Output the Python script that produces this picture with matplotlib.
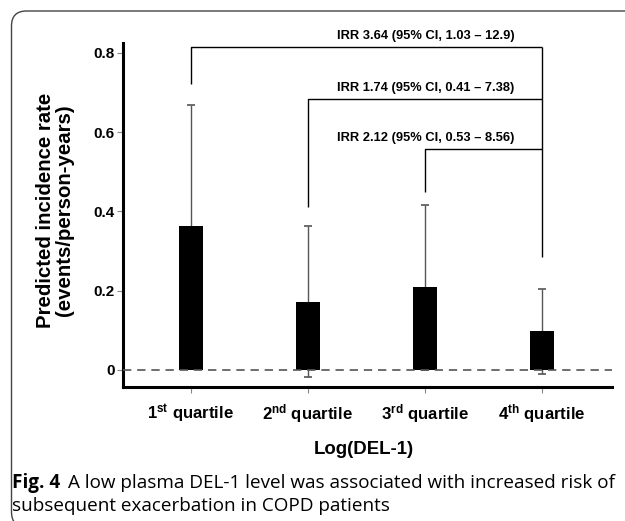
import matplotlib
matplotlib.use('Agg')
import matplotlib.pyplot as plt
from matplotlib.patches import FancyBboxPatch
from matplotlib import font_manager

# ---- data ----
categories = ['1$^{\\mathregular{st}}$ quartile', '2$^{\\mathregular{nd}}$ quartile',
              '3$^{\\mathregular{rd}}$ quartile', '4$^{\\mathregular{th}}$ quartile']
rates = [0.364, 0.172, 0.208, 0.098]
upper_ci = [0.667, 0.362, 0.415, 0.205]
yticks = [0, 0.2, 0.4, 0.6, 0.8]
ytick_labels = ['0', '0.2', '0.4', '0.6', '0.8']
irr_labels = ['IRR 3.64 (95% CI, 1.03 \u2013 12.9)',
              'IRR 1.74 (95% CI, 0.41 \u2013 7.38)',
              'IRR 2.12 (95% CI, 0.53 \u2013 8.56)']
bracket_from = [0, 1, 2]
bracket_to = 3
bracket_top = [0.815, 0.683, 0.558]
bracket_left_bottom = [0.72, 0.41, 0.448]
bracket_right_bottom = 0.285

# ---- fonts ----
def has_font(name):
    try:
        font_manager.findfont(font_manager.FontProperties(family=name), fallback_to_default=False)
        return True
    except Exception:
        return False

main_font = 'Liberation Sans'
narrow_font = 'Liberation Sans Narrow' if has_font('Liberation Sans Narrow') else 'Liberation Sans'
plt.rcParams['font.family'] = [main_font, 'DejaVu Sans']
plt.rcParams['mathtext.default'] = 'regular'

W, H = 625, 521
fig = plt.figure(figsize=(W / 100, H / 100), dpi=100)
fig.patch.set_facecolor('white')

# axes placement (pixel-based)
ax_left, ax_right, ax_top, ax_bottom = 123, 612, 43, 387
ax = fig.add_axes([ax_left / W, 1 - ax_bottom / H, (ax_right - ax_left) / W, (ax_bottom - ax_top) / H])
ax.set_facecolor('white')

x = list(range(len(rates)))
yerr = [r_u - r for r, r_u in zip(rates, upper_ci)]
ax.errorbar(x, rates, yerr=yerr, fmt='none', ecolor='#555555', elinewidth=1.0,
            capsize=3, capthick=1.2, zorder=2)
ax.bar(x, rates, width=0.21, color='black', zorder=3)
ax.axhline(0, color='#555555', lw=1.2, ls=(0, (5, 3.5)), zorder=4)

ax.set_xlim(-0.58, 3.6)
ax.set_ylim(-0.043, 0.8245)

for s in ['top', 'right']:
    ax.spines[s].set_visible(False)
for s in ['left', 'bottom']:
    ax.spines[s].set_linewidth(2.2)
    ax.spines[s].set_color('black')
    ax.spines[s].set_capstyle('projecting')

ax.set_yticks(yticks)
ax.set_yticklabels(ytick_labels, fontsize=11, fontweight='bold')
ax.set_xticks(x)
ax.set_xticklabels(categories, fontsize=12.1, fontweight='bold')
ax.tick_params(axis='y', length=4, width=0.8, color='#888888', pad=2)
ax.tick_params(axis='x', length=4, width=0.8, color='#888888', pad=7)

# brackets
for i, (f, top, lb) in enumerate(zip(bracket_from, bracket_top, bracket_left_bottom)):
    ax.plot([f, f, bracket_to], [lb, top, top], color='black', lw=1.0, clip_on=False, zorder=5,
            solid_capstyle='butt')
ax.plot([bracket_to, bracket_to], [bracket_top[0], bracket_right_bottom], color='black', lw=1.0,
        clip_on=False, zorder=5, solid_capstyle='butt')
for lab, top in zip(irr_labels, bracket_top):
    ax.annotate(lab, xy=(2.01, top), xytext=(0, 8), textcoords='offset points',
                ha='center', va='center', fontsize=9.3, fontweight='bold',
                family=[narrow_font, 'DejaVu Sans'], annotation_clip=False)

# y label
fig.text(55 / W, 1 - 210 / H, 'Predicted incidence rate\n(events/person-years)', rotation=90,
         ha='center', va='center', fontsize=14.7, fontweight='bold', linespacing=1.0)
# x label
fig.text(364 / W, 1 - 450 / H, 'Log(DEL-1)', ha='center', va='center', fontsize=13.4, fontweight='bold')

# caption
cap_font = ['Open Sans', 'DejaVu Sans']
cap_size = 13.6
renderer = fig.canvas.get_renderer()
t1 = fig.text(12 / W, 1 - 483 / H, 'Fig. 4', ha='left', va='center', fontsize=cap_size,
              fontweight='bold', family=cap_font)
bb = t1.get_window_extent(renderer)
fig.text((bb.x1 + 8) / W, 1 - 483 / H, 'A low plasma DEL-1 level was associated with increased risk of',
         ha='left', va='center', fontsize=cap_size, family=cap_font)
fig.text(12 / W, 1 - 506 / H, 'subsequent exacerbation in COPD patients', ha='left', va='center',
         fontsize=cap_size, family=cap_font)

# panel frame with rounded corner
frame = FancyBboxPatch((0.115, -0.06), 7.0, 5.21 - 0.11 + 0.06,
                       boxstyle='round,pad=0,rounding_size=0.15',
                       transform=fig.dpi_scale_trans, fill=False, edgecolor='#444444', lw=1.0,
                       clip_on=False)
fig.add_artist(frame)

fig.savefig('out.png', dpi=100, facecolor='white')
